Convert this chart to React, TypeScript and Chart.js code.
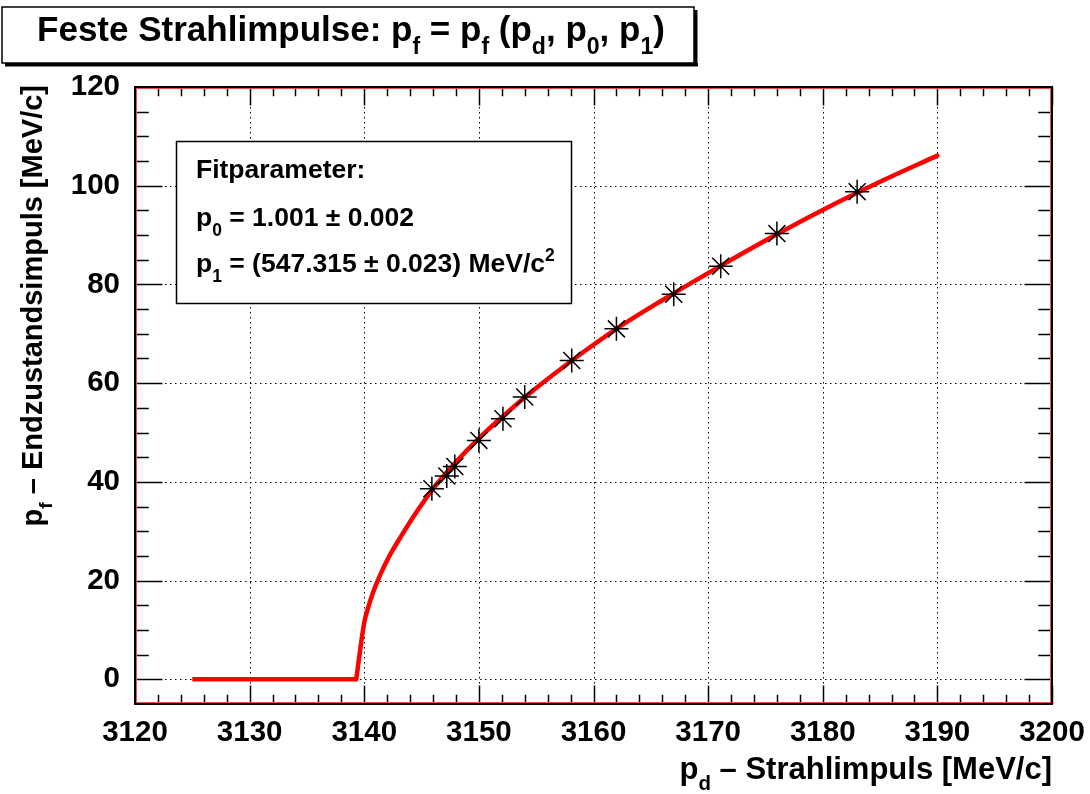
import { useEffect, useRef } from 'react';
import { Chart, registerables } from 'chart.js';

Chart.register(...registerables);

// ---- data ----
const MEAS_X = [3145.9, 3147.2, 3147.9, 3150.0, 3152.1, 3154.0, 3158.1, 3162.0, 3167.0, 3171.1, 3176.0, 3183.0];
const MEAS_Y = [38.6, 41.2, 43.1, 48.4, 52.8, 57.2, 64.6, 71.0, 78.0, 83.7, 90.3, 98.8];

const FIT_X = [3125, 3139.3, 3140.0, 3140.4, 3140.8, 3141.4, 3142.2, 3143.3, 3144.3, 3146.0, 3148.0, 3150.0, 3152.0, 3155.0, 3158.0, 3162.0, 3166.0, 3170.0, 3175.0, 3180.0, 3185.0, 3190.0];
const FIT_Y = [0, 0, 11.5, 15.0, 17.8, 21.2, 25.0, 29.3, 33.0, 38.6, 44.0, 48.8, 53.1, 59.0, 64.4, 71.0, 76.8, 82.3, 88.9, 95.1, 100.8, 106.1];

const X_TICKS = [3120, 3130, 3140, 3150, 3160, 3170, 3180, 3190, 3200];
const Y_TICKS = [0, 20, 40, 60, 80, 100, 120];
const X_RANGE = [3120, 3200];
const Y_RANGE = [-5, 120];

const TITLE = [
  { t: 'Feste Strahlimpulse: p' }, { t: 'f', s: 'sub' }, { t: ' = p' }, { t: 'f', s: 'sub' },
  { t: ' (p' }, { t: 'd', s: 'sub' }, { t: ', p' }, { t: '0', s: 'sub' }, { t: ', p' }, { t: '1', s: 'sub' }, { t: ')' },
];
const FIT_LINES = [
  [{ t: 'Fitparameter:' }],
  [{ t: 'p' }, { t: '0', s: 'sub' }, { t: ' = 1.001 \u00b1 0.002' }],
  [{ t: 'p' }, { t: '1', s: 'sub' }, { t: ' = (547.315 \u00b1 0.023) MeV/c' }, { t: '2', s: 'sup' }],
];
const X_TITLE = [{ t: 'p' }, { t: 'd', s: 'sub' }, { t: ' \u2013 Strahlimpuls [MeV/c]' }];
const Y_TITLE = [{ t: 'p' }, { t: 'f', s: 'sub' }, { t: ' \u2013 Endzustandsimpuls [MeV/c]' }];

type Seg = { t: string; s?: string };

const FAMILY = '"Liberation Sans", Arial, Helvetica, sans-serif';
const SUB_SCALE = 0.66;

function setFont(ctx: CanvasRenderingContext2D, size: number) {
  ctx.font = `bold ${size}px ${FAMILY}`;
}

function richWidth(ctx: CanvasRenderingContext2D, segs: Seg[], size: number) {
  let w = 0;
  for (const s of segs) {
    setFont(ctx, s.s ? size * SUB_SCALE : size);
    w += ctx.measureText(s.t).width;
  }
  return w;
}

function drawRich(ctx: CanvasRenderingContext2D, segs: Seg[], x: number, y: number, size: number, align: string) {
  const w = richWidth(ctx, segs, size);
  let cx = align === 'center' ? x - w / 2 : align === 'right' ? x - w : x;
  ctx.textAlign = 'left';
  ctx.textBaseline = 'alphabetic';
  ctx.fillStyle = '#000';
  for (const s of segs) {
    const fs = s.s ? size * SUB_SCALE : size;
    setFont(ctx, fs);
    const dy = s.s === 'sub' ? size * 0.36 : s.s === 'sup' ? -size * 0.42 : 0;
    ctx.fillText(s.t, cx, y + dy);
    cx += ctx.measureText(s.t).width;
  }
}

const decor = {
  id: 'decor',
  beforeDatasetsDraw(chart: any) {
    const { ctx, chartArea: a, scales } = chart;
    const x = scales.x, y = scales.y;
    ctx.save();
    ctx.strokeStyle = '#000';
    ctx.lineWidth = 1;
    ctx.setLineDash([1.5, 3.5]);
    for (const v of X_TICKS) {
      const px = Math.round(x.getPixelForValue(v)) + 0.5;
      ctx.beginPath(); ctx.moveTo(px, a.top); ctx.lineTo(px, a.bottom); ctx.stroke();
    }
    for (const v of Y_TICKS) {
      const py = Math.round(y.getPixelForValue(v)) + 0.5;
      ctx.beginPath(); ctx.moveTo(a.left, py); ctx.lineTo(a.right, py); ctx.stroke();
    }
    ctx.restore();
  },
  afterDatasetsDraw(chart: any) {
    const { ctx, chartArea: a, scales } = chart;
    const x = scales.x, y = scales.y;
    ctx.save();
    // ticks
    ctx.strokeStyle = '#000';
    ctx.lineWidth = 1.5;
    const xh = a.bottom - a.top, yw = a.right - a.left;
    const xMaj = 0.03 * xh, yMaj = 0.03 * yw;
    for (let v = X_RANGE[0]; v <= X_RANGE[1]; v += 2) {
      const px = Math.round(x.getPixelForValue(v)) + 0.5;
      const len = (v - X_RANGE[0]) % 10 === 0 ? xMaj : xMaj / 2;
      ctx.beginPath();
      ctx.moveTo(px, a.bottom); ctx.lineTo(px, a.bottom - len);
      ctx.moveTo(px, a.top); ctx.lineTo(px, a.top + len);
      ctx.stroke();
    }
    for (let v = 0; v <= Y_RANGE[1]; v += 5) {
      const py = Math.round(y.getPixelForValue(v)) + 0.5;
      const len = v % 20 === 0 ? yMaj : yMaj / 2;
      ctx.beginPath();
      ctx.moveTo(a.left, py); ctx.lineTo(a.left + len, py);
      ctx.moveTo(a.right, py); ctx.lineTo(a.right - len, py);
      ctx.stroke();
    }
    // frame
    ctx.lineWidth = 2;
    ctx.strokeRect(a.left, a.top, a.right - a.left, a.bottom - a.top);
    ctx.strokeStyle = '#e85050';
    ctx.lineWidth = 1;
    ctx.strokeRect(a.left + 1.5, a.top + 1.5, a.right - a.left - 3, a.bottom - a.top - 3);

    // fit parameter box
    const bx = 176, by = 141, bw = 395, bh = 162;
    ctx.fillStyle = '#fff';
    ctx.fillRect(bx, by, bw, bh);
    ctx.strokeStyle = '#000';
    ctx.lineWidth = 1.5;
    ctx.strokeRect(bx + 0.5, by + 0.5, bw, bh);
    const baselines = [178, 226, 272];
    FIT_LINES.forEach((l, i) => drawRich(ctx, l as Seg[], 196, baselines[i], 26.5, 'left'));
    ctx.restore();
  },
  afterDraw(chart: any) {
    const { ctx, chartArea: a } = chart;
    ctx.save();
    // title box with shadow
    ctx.fillStyle = '#000';
    ctx.fillRect(5, 63, 693, 3.5);
    ctx.fillRect(694, 10, 3.5, 56);
    ctx.fillStyle = '#fff';
    ctx.fillRect(2, 7, 692, 56);
    ctx.strokeStyle = '#000';
    ctx.lineWidth = 1.5;
    ctx.strokeRect(2, 7, 692, 56);
    drawRich(ctx, TITLE as Seg[], 351, 41, 35, 'center');
    // axis titles
    drawRich(ctx, X_TITLE as Seg[], a.right, 779, 31, 'right');
    ctx.translate(42, a.top - 2);
    ctx.rotate(-Math.PI / 2);
    drawRich(ctx, Y_TITLE as Seg[], 0, 0, 29, 'right');
    ctx.restore();
  },
};

export default function App() {
  const ref = useRef<HTMLCanvasElement>(null);
  useEffect(() => {
    if (!ref.current) return;
    const tickFont = { family: FAMILY, size: 29.5, weight: 'bold' as const };
    const flat = FIT_X.slice(0, 2).map((v, i) => ({ x: v, y: FIT_Y[i] }));
    const rise = FIT_X.slice(1).map((v, i) => ({ x: v, y: FIT_Y[i + 1] }));
    const chart = new Chart(ref.current, {
      type: 'scatter',
      data: {
        datasets: [
          {
            label: 'Messpunkte',
            data: MEAS_X.map((v, i) => ({ x: v, y: MEAS_Y[i] })),
            pointStyle: 'star',
            pointRadius: 12,
            pointBorderWidth: 1.5,
            borderColor: '#000',
            backgroundColor: '#000',
            showLine: false,
          },
          {
            label: 'Messpunkte Zentrum',
            data: MEAS_X.map((v, i) => ({ x: v, y: MEAS_Y[i] })),
            pointStyle: 'rect',
            pointRadius: 2.2,
            borderWidth: 0,
            borderColor: '#000',
            backgroundColor: '#000',
            showLine: false,
          },
          {
            label: 'Fit (Anstieg)',
            data: rise,
            showLine: true,
            borderColor: '#ff0000',
            borderWidth: 4.5,
            pointRadius: 0,
            cubicInterpolationMode: 'monotone',
            borderCapStyle: 'round',
            borderJoinStyle: 'round',
          },
          {
            label: 'Fit (unter Schwelle)',
            data: flat,
            showLine: true,
            borderColor: '#ff0000',
            borderWidth: 4.5,
            pointRadius: 0,
            tension: 0,
            borderCapStyle: 'butt',
          },
        ],
      },
      options: {
        responsive: false,
        animation: false,
        devicePixelRatio: 1,
        layout: { padding: { left: 0, right: 38, top: 87, bottom: 0 } },
        plugins: { legend: { display: false }, tooltip: { enabled: false }, title: { display: false } },
        scales: {
          x: {
            type: 'linear',
            min: X_RANGE[0],
            max: X_RANGE[1],
            afterBuildTicks: (s: any) => { s.ticks = X_TICKS.map((v) => ({ value: v })); },
            afterFit: (s: any) => { s.height = 90; s.paddingLeft = 0; s.paddingRight = 0; },
            grid: { display: false, drawTicks: false },
            border: { display: false },
            ticks: { font: tickFont, color: '#000', padding: 11, maxRotation: 0, autoSkip: false, callback: (v: any) => String(v) },
          },
          y: {
            type: 'linear',
            min: Y_RANGE[0],
            max: Y_RANGE[1],
            afterBuildTicks: (s: any) => { s.ticks = Y_TICKS.map((v) => ({ value: v })); },
            afterFit: (s: any) => { s.width = 135; s.paddingTop = 0; s.paddingBottom = 0; },
            grid: { display: false, drawTicks: false },
            border: { display: false },
            ticks: { font: tickFont, color: '#000', padding: 15, autoSkip: false, callback: (v: any) => String(v) },
          },
        },
      },
      plugins: [decor],
    });
    return () => chart.destroy();
  }, []);
  return (
    <div style={{ position: 'absolute', left: 0, top: 0, width: 1090, height: 794, background: '#fff' }}>
      <canvas ref={ref} width={1090} height={794} style={{ display: 'block', width: 1090, height: 794 }} />
    </div>
  );
}
